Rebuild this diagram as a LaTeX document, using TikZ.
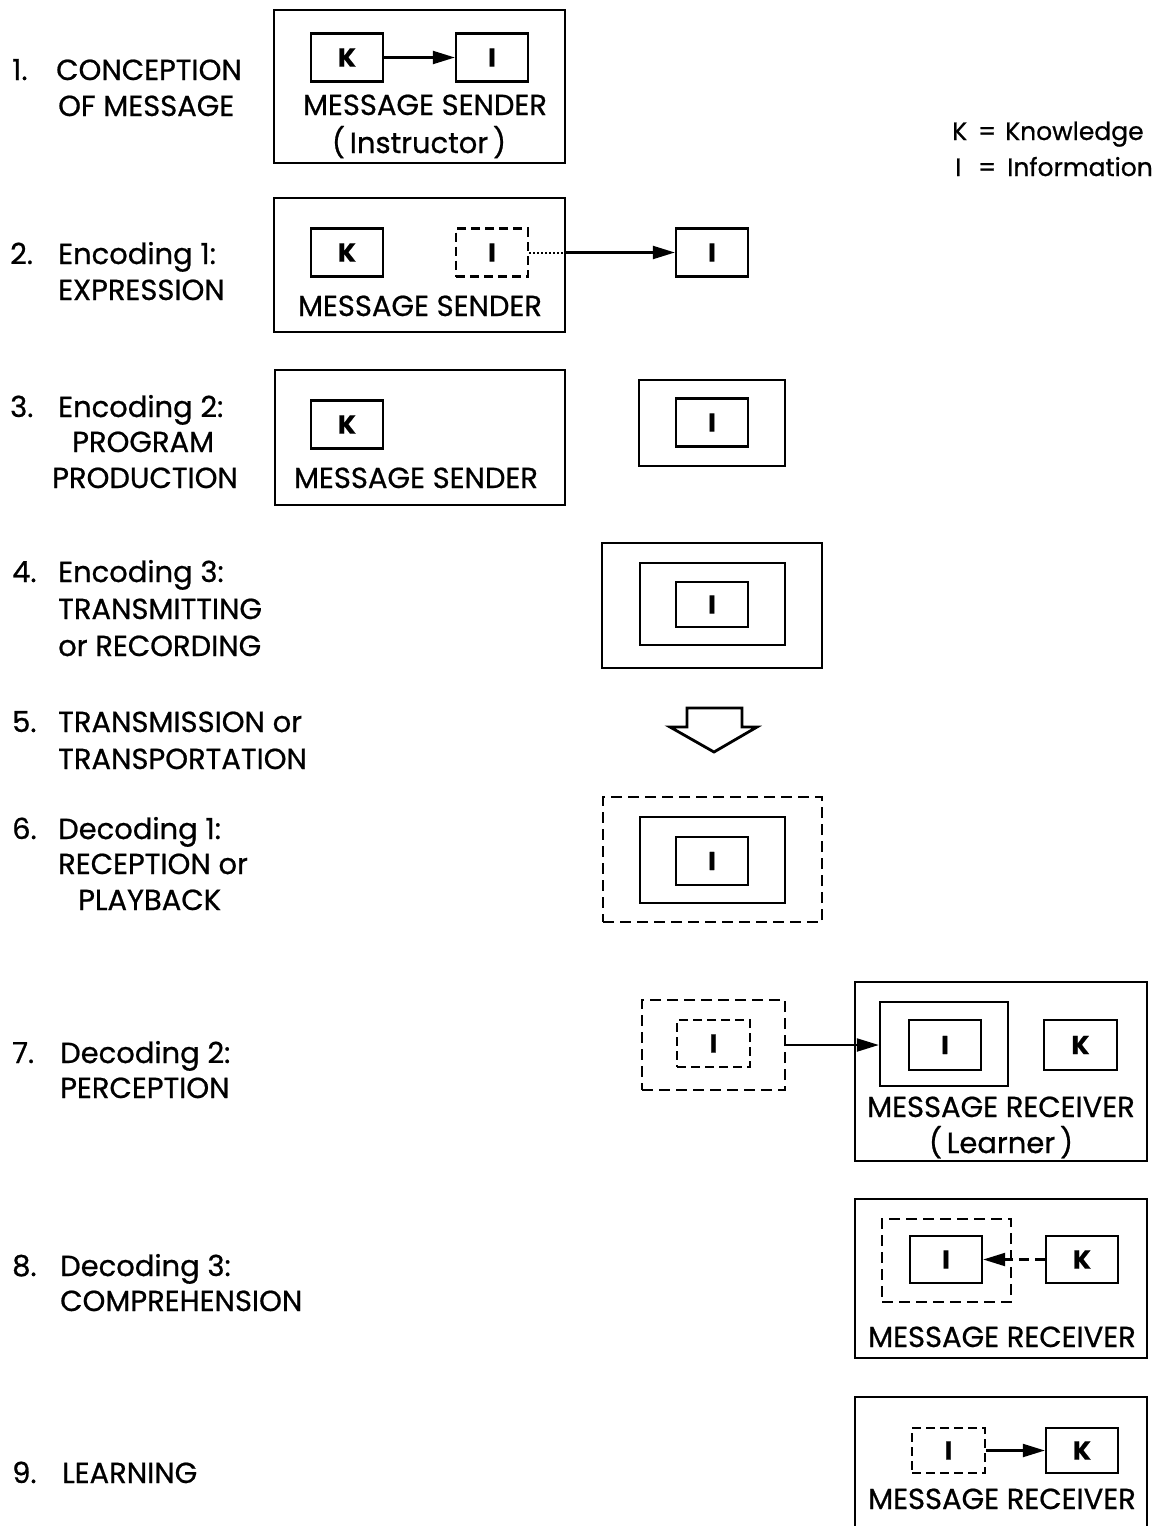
\documentclass[tikz,border=0pt]{standalone}
\usepackage{fontspec}
\setmainfont{Poppins}[FakeBold=0.7]
\usetikzlibrary{arrows.meta}
\newcommand\fsA{\fontsize{29}{34}\selectfont}
\newcommand\fsL{\fontsize{25}{30}\selectfont}
\newcommand\fsK{\fontsize{26}{30}\selectfont\bfseries}
\tikzset{
  bx/.style={draw, line width=2.4pt, inner sep=0pt},
  dbx/.style={bx, dash pattern=on 11pt off 6pt},
  lt/.style={bx, minimum width=72pt, minimum height=48pt, font=\fsK},
  dlt/.style={lt, dash pattern=on 9pt off 5pt},
  arr/.style={line width=2.2pt, -{Triangle[length=22pt,width=13pt]}},
  lab/.style={anchor=west, inner sep=0pt, font=\fsA, text height=20pt, text depth=0pt},
  leg/.style={anchor=west, inner sep=0pt, font=\fsL, text height=18pt, text depth=0pt},
  txt/.style={inner sep=0pt, font=\fsA, text height=20pt, text depth=0pt},
}
\begin{document}
\begin{tikzpicture}[x=1pt,y=-1pt]
\useasboundingbox (0,0) rectangle (1164,1526);
% ---- left labels
\node[lab] (n1) at (12,70) {1.};
\node[lab] (l1a) at (56,70) {CONCEPTION};
\node[lab] (l1b) at (58,106) {OF MESSAGE};
\node[lab] (n2) at (10,254) {2.};
\node[lab] (l2a) at (58,254) {Encoding 1:};
\node[lab] (l2b) at (58,290) {EXPRESSION};
\node[lab] (n3) at (10,407) {3.};
\node[lab] (l3a) at (58,407) {Encoding 2:};
\node[lab] (l3b) at (72,442) {PROGRAM};
\node[lab] (l3c) at (52,478) {PRODUCTION};
\node[lab] (n4) at (12,572) {4.};
\node[lab] (l4a) at (58,572) {Encoding 3:};
\node[lab] (l4b) at (58,609) {TRANSMITTING};
\node[lab] (l4c) at (58,646) {or RECORDING};
\node[lab] (n5) at (12,722) {5.};
\node[lab] (l5a) at (58,722) {TRANSMISSION or};
\node[lab] (l5b) at (58,759) {TRANSPORTATION};
\node[lab] (n6) at (12,829) {6.};
\node[lab] (l6a) at (58,829) {Decoding 1:};
\node[lab] (l6b) at (58,864) {RECEPTION or};
\node[lab] (l6c) at (78,900) {PLAYBACK};
\node[lab] (n7) at (12,1053) {7.};
\node[lab] (l7a) at (60,1053) {Decoding 2:};
\node[lab] (l7b) at (60,1088) {PERCEPTION};
\node[lab] (n8) at (12,1266) {8.};
\node[lab] (l8a) at (60,1266) {Decoding 3:};
\node[lab] (l8b) at (60,1301) {COMPREHENSION};
\node[lab] (n9) at (12,1473) {9.};
\node[lab] (l9a) at (62,1473) {LEARNING};
% ---- legend
\node[leg] (lgK) at (952,131) {K};
\node[leg] (lgKe) at (978,131) {=};
\node[leg] (lgKt) at (1005,131) {Knowledge};
\node[leg] (lgI) at (955,167) {I};
\node[leg] (lgIe) at (978,167) {=};
\node[leg] (lgIt) at (1007,167) {Information};
% ---- row 1
\node[bx, minimum width=291pt, minimum height=153pt] (s1) at (419.5,86.5) {};
\node[lt] (k1) at (347,57.5) {K};
\node[lt] (i1) at (492,57.5) {I};
\draw[arr] (k1) -- (i1);
\node[txt] (s1t) at (425,105) {MESSAGE SENDER};
\node[txt] (s1u) at (419,143) {(\,Instructor\,)};
% ---- row 2
\node[bx, minimum width=291pt, minimum height=134pt] (s2) at (419.5,265) {};
\node[lt] (k2) at (347,252.5) {K};
\node[dlt] (i2) at (492,252.5) {I};
\node[lt] (i2b) at (712,252.5) {I};
\draw[line width=2pt, dash pattern=on 2pt off 2pt] (i2.east) -- (i2.east -| s2.east);
\draw[arr] (i2.east -| s2.east) -- (i2b.west);
\node[txt] (s2t) at (420,306) {MESSAGE SENDER};
% ---- row 3
\node[bx, minimum width=290pt, minimum height=135pt] (s3) at (420,437.5) {};
\node[lt] (k3) at (347,424.5) {K};
\node[txt] (s3t) at (416,478) {MESSAGE SENDER};
\node[bx, minimum width=146pt, minimum height=86pt] (t3) at (712,423) {};
\node[lt] (i3) at (712,422.5) {I};
% ---- row 4
\node[bx, minimum width=220pt, minimum height=125pt] (t4) at (712,605.5) {};
\node[bx, minimum width=145pt, minimum height=82pt] (m4) at (712.5,604) {};
\node[lt, minimum height=45pt] (i4) at (712,604.5) {I};
% ---- row 5: block arrow
\draw[line width=2.8pt, line join=miter] (687,708) -- (742,708) -- (742,727) -- (757,727)
  -- (714,752) -- (670,727) -- (687,727) -- cycle;
% ---- row 6
\node[dbx, minimum width=219pt, minimum height=125pt] (t6) at (712.5,859.5) {};
\node[bx, minimum width=145pt, minimum height=86pt] (m6) at (712.5,860) {};
\node[lt] (i6) at (712,861) {I};
% ---- row 7
\node[dbx, minimum width=143pt, minimum height=90pt] (t7) at (713.5,1045) {};
\node[dlt, minimum width=73pt, minimum height=47pt] (i7) at (713.5,1043.5) {I};
\node[bx, minimum width=292pt, minimum height=179pt] (r7) at (1001,1071.5) {};
\node[bx, minimum width=128pt, minimum height=84pt] (m7) at (944,1044) {};
\node[lt, minimum height=50pt] (i7b) at (945,1045) {I};
\node[lt, minimum width=73pt, minimum height=50pt] (k7) at (1080.5,1045) {K};
\draw[arr] (t7.east) -- (t7.east -| m7.west);
\node[txt] (r7t) at (1001,1107) {MESSAGE RECEIVER};
\node[txt] (r7u) at (1001,1143) {(\,Learner\,)};
% ---- row 8
\node[bx, minimum width=292pt, minimum height=159pt] (r8) at (1001,1278.5) {};
\node[dbx, minimum width=129pt, minimum height=83pt] (d8) at (946.5,1260.5) {};
\node[lt, minimum height=47pt] (i8) at (946,1259.5) {I};
\node[lt, minimum height=47pt] (k8) at (1082,1259.5) {K};
\draw[arr, dash pattern=on 10pt off 6pt] (k8.west) -- (i8.east);
\node[txt] (r8t) at (1002,1337) {MESSAGE RECEIVER};
% ---- row 9
\node[bx, minimum width=292pt, minimum height=143pt] (r9) at (1001,1468.5) {};
\node[dlt, minimum width=73pt, minimum height=45pt] (i9) at (948.5,1450.5) {I};
\node[lt, minimum height=45pt] (k9) at (1082,1450.5) {K};
\draw[arr] (i9.east) -- (k9.west);
\node[txt] (r9t) at (1002,1499) {MESSAGE RECEIVER};
\end{tikzpicture}
\end{document}
